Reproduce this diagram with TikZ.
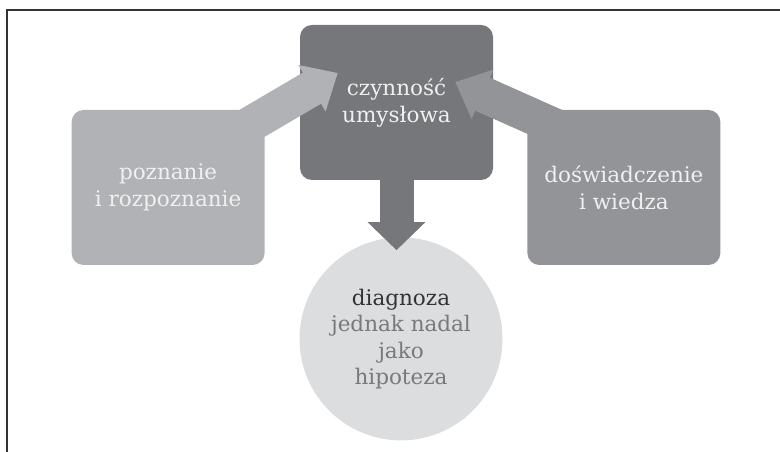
\documentclass[tikz,border=0pt]{standalone}
\usepackage{fontspec}
\setmainfont{DejaVu Serif}
\usetikzlibrary{arrows.meta,positioning}
\definecolor{ciemny}{HTML}{76777B}
\definecolor{sredni}{HTML}{939498}
\definecolor{jasny}{HTML}{B1B2B5}
\definecolor{blady}{HTML}{DCDDDF}
\definecolor{ramka}{HTML}{333333}
\tikzset{
	%Define standard arrow tip
	>={Triangle[length=30pt,width=52pt]},
	%Define style for boxes
	blok/.style={
		rectangle,
		rounded corners=12pt,
		minimum width=193pt,
		minimum height=155pt,
		text=white!94!black,
		align=center,
		font=\fontsize{21.5}{27}\selectfont},
	%Define style for the circle
	kolo/.style={
		circle,
		fill=blady,
		minimum size=203pt,
		inner sep=0pt,
		text=gray!95!black,
		align=center,
		font=\fontsize{21.5}{26.5}\selectfont},
	% Define arrow style
	pil/.style={
		->,
		line width=36pt}
}
\begin{document}
\begin{tikzpicture}[x=1pt, y=1pt]
	\useasboundingbox (0,0) rectangle (780,452);
	\draw[ramka, line width=1.5pt] (7,0) -- (7,442) -- (780,442);
	
	\node[blok, fill=ciemny] (czynnosc) at (396.5,349.5) {czynność\\umysłowa};
	\node[blok, fill=jasny, left =35pt of czynnosc, yshift=-85pt] (poznanie) {poznanie\\i rozpoznanie};
	\node[blok, fill=sredni, right =34pt of czynnosc, yshift=-85pt] (wiedza) {doświadczenie\\i wiedza};
	\node[kolo, below =57pt of czynnosc, xshift=4.5pt] (diagnoza) {{\color{ramka}diagnoza}\\jednak nadal\\jako\\hipoteza};
	
	\draw[pil, jasny] ([shift={(-22pt,-19pt)}]poznanie.north east) -- ([shift={(38pt,29.5pt)}]czynnosc.west);
	\draw[pil, sredni] ([shift={(33pt,-19pt)}]wiedza.north west) -- ([shift={(-38pt,20.5pt)}]czynnosc.east);
	\draw[pil, line width=34pt, {-Triangle[length=28pt,width=56pt]}, ciemny] ([yshift=20pt]czynnosc.south) -- ([yshift=-70pt]czynnosc.south);
	
\end{tikzpicture}
\end{document}
